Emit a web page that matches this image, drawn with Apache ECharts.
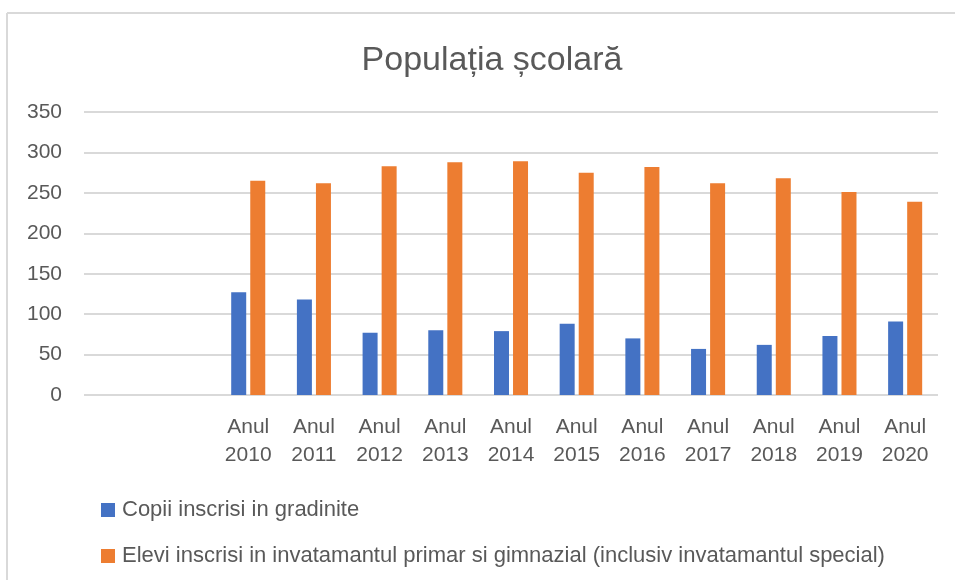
<!DOCTYPE html>
<html>
<head>
<meta charset="utf-8">
<script src="https://cdn.jsdelivr.net/npm/echarts@6/dist/echarts.min.js"></script>
<style>
  html, body { margin: 0; padding: 0; background: #fff; }
  #chart-container { width: 955px; height: 580px; }
</style>
</head>
<body>
<div id="chart-container"></div>
<script>
// Categorii (primele doua sunt goale, ca in original)
const categories = ['', '', 'Anul\n2010', 'Anul\n2011', 'Anul\n2012', 'Anul\n2013', 'Anul\n2014',
    'Anul\n2015', 'Anul\n2016', 'Anul\n2017', 'Anul\n2018', 'Anul\n2019', 'Anul\n2020'];

// Copii inscrisi in gradinite
const copiiGradinite = [null, null, 127, 118, 77, 80, 79, 88, 70, 57, 62, 73, 91];

// Elevi inscrisi in invatamantul primar si gimnazial
const eleviPrimar = [null, null, 265, 262, 283, 288, 289, 275, 282, 262, 268, 251, 239];

const seriesNames = [
    'Copii inscrisi in gradinite',
    'Elevi inscrisi in invatamantul primar si gimnazial (inclusiv invatamantul special)'
];

const fontFamily = '"Liberation Sans", Arial, sans-serif';
const textColor = '#595959';

const chart = echarts.init(document.getElementById('chart-container'));

const chartOptions = {
    animation: false,
    textStyle: { fontFamily: fontFamily },
    title: {
        text: 'Populația școlară',
        left: 487,
        textAlign: 'center',
        top: 39,
        textStyle: { fontFamily: fontFamily, fontSize: 34, fontWeight: 'normal', color: textColor }
    },
    legend: {
        orient: 'vertical',
        left: 101,
        top: 499,
        padding: 0,
        itemWidth: 14,
        itemHeight: 14,
        itemGap: 24,
        icon: 'rect',
        data: seriesNames,
        textStyle: { fontFamily: fontFamily, fontSize: 22, color: textColor, padding: [0, 0, 0, 2] }
    },
    grid: { left: 84, right: 17, top: 112, bottom: 185 },
    xAxis: {
        type: 'category',
        data: categories,
        axisLine: { show: false },
        axisTick: { show: false },
        axisLabel: {
            interval: 0,
            color: textColor,
            fontFamily: fontFamily,
            fontSize: 21,
            lineHeight: 28,
            margin: 18
        }
    },
    yAxis: {
        type: 'value',
        min: 0,
        max: 350,
        interval: 50,
        axisLine: { show: false },
        axisTick: { show: false },
        axisLabel: { color: textColor, fontFamily: fontFamily, fontSize: 21, margin: 22 },
        splitLine: { lineStyle: { color: '#d9d9d9', width: 2 } }
    },
    series: [
        {
            name: seriesNames[0],
            type: 'bar',
            data: copiiGradinite,
            barWidth: 15,
            barGap: '27%',
            itemStyle: { color: '#4472C4' }
        },
        {
            name: seriesNames[1],
            type: 'bar',
            data: eleviPrimar,
            barWidth: 15,
            barGap: '27%',
            itemStyle: { color: '#ED7D31' }
        }
    ],
    // Rama graficului: linia de sus si cea din stanga
    graphic: [
        { type: 'line', shape: { x1: 7, y1: 13, x2: 955, y2: 13 }, style: { stroke: '#d9d9d9', lineWidth: 2 } },
        { type: 'line', shape: { x1: 7, y1: 13, x2: 7, y2: 580 }, style: { stroke: '#d9d9d9', lineWidth: 2 } }
    ]
};

chart.setOption(chartOptions);
</script>
</body>
</html>
